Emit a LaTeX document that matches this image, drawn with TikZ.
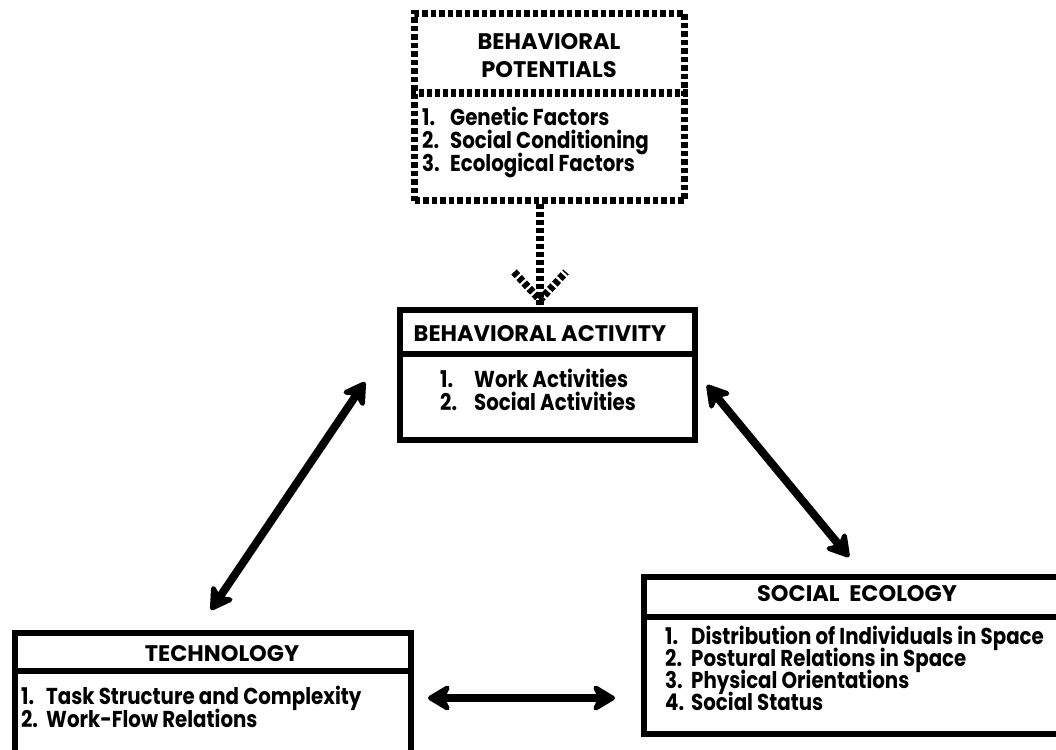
\documentclass[tikz,border=0pt]{standalone}
\usepackage{fontspec}
\setmainfont{Poppins}[FakeStretch=0.86]
\newfontfamily\ttlfam{Poppins}
\usetikzlibrary{arrows.meta}
\begin{document}
\begin{tikzpicture}[x=1pt,y=-1pt,
  every node/.style={font=\bfseries\fontsize{23}{26}\selectfont, inner sep=0pt},
  frame/.style={draw, line width=6pt, anchor=north west},
  sepline/.style={line width=6pt},
  dotframe/.style={draw, line width=7pt, dash pattern=on 5.5pt off 3pt, anchor=north west},
  dotline/.style={line width=7.5pt, dash pattern=on 5pt off 3pt},
  ttl/.style={anchor=base, font=\ttlfam\bfseries\fontsize{22.5}{26}\selectfont},
  itm/.style={anchor=base west},
  num/.style={anchor=base west},
  dbl/.style={line width=8pt, {Stealth[length=27pt,width=32pt,inset=8pt,round]}-{Stealth[length=27pt,width=32pt,inset=8pt,round]}}
]
\useasboundingbox (0,0) rectangle (1056,749);
\fill[white] (0,0) rectangle (1056,749);

% ---------- Behavioral potentials (dotted) ----------
\node[dotframe, minimum width=270pt, minimum height=187pt] (bp) at (411,10) {};
\draw[dotline] (bp.west |- 0,93) -- (bp.east |- 0,93);
\node[ttl] (bpt1) at (549,50) {BEHAVIORAL};
\node[ttl] (bpt2) at (549,78) {POTENTIALS};
\node[num] (bpn1) at (422,125) {1.};
\node[itm] (bpi1) at (450,125) {Genetic Factors};
\node[num] (bpn2) at (422,148) {2.};
\node[itm] (bpi2) at (450,148) {Social Conditioning};
\node[num] (bpn3) at (422,171) {3.};
\node[itm] (bpi3) at (450,171) {Ecological Factors};

% dotted arrow
\coordinate (tip) at (540,300);
\coordinate (hl) at (514,272);
\coordinate (hr) at (566,272);
\draw[dotline] (bp.south -| tip) -- ([yshift=-6pt]tip);
\draw[dotline, dash pattern=on 5pt off 2.5pt] (hl) -- (tip) -- (hr);

% ---------- Behavioral activity ----------
\node[frame, minimum width=295pt, minimum height=130pt] (ba) at (397,307) {};
\draw[sepline] (ba.west |- 0,354) -- (ba.east |- 0,354);
\node[ttl] (bat) at (540,341) {BEHAVIORAL ACTIVITY};
\node[num] (ban1) at (440,387) {1.};
\node[itm] (bai1) at (474,387) {Work Activities};
\node[num] (ban2) at (440,410) {2.};
\node[itm] (bai2) at (474,410) {Social Activities};

% ---------- Technology ----------
\node[frame, minimum width=396pt, minimum height=135pt] (te) at (12,630) {};
\draw[sepline] (te.west |- 0,671) -- (te.east |- 0,671);
\node[ttl] (tet) at (222,661) {TECHNOLOGY};
\node[num] (ten1) at (21,704) {1.};
\node[itm] (tei1) at (46,704) {Task Structure and Complexity};
\node[num] (ten2) at (21,727) {2.};
\node[itm] (tei2) at (46,727) {Work-Flow Relations};

% ---------- Social ecology ----------
\node[frame, minimum width=425pt, minimum height=157pt] (se) at (641,574) {};
\draw[sepline] (se.west |- 0,617) -- (se.east |- 0,617);
\node[ttl] (set) at (857,601) {SOCIAL\ \ ECOLOGY};
\node[num] (sen1) at (665,644) {1.};
\node[itm] (sei1) at (691,644) {Distribution of Individuals in Space};
\node[num] (sen2) at (665,666) {2.};
\node[itm] (sei2) at (691,666) {Postural Relations in Space};
\node[num] (sen3) at (665,688) {3.};
\node[itm] (sei3) at (691,688) {Physical Orientations};
\node[num] (sen4) at (665,710) {4.};
\node[itm] (sei4) at (691,710) {Social Status};

% ---------- double arrows ----------
\coordinate (l1) at (365,382);
\coordinate (l2) at (211,610);
\coordinate (r1) at (707,385);
\coordinate (r2) at (849,557);
\coordinate (h1) at (428,698);
\coordinate (h2) at (615,698);
\draw[dbl] (l1) -- (l2);
\draw[dbl] (r1) -- (r2);
\draw[dbl] (h1) -- (h2);
\end{tikzpicture}
\end{document}
